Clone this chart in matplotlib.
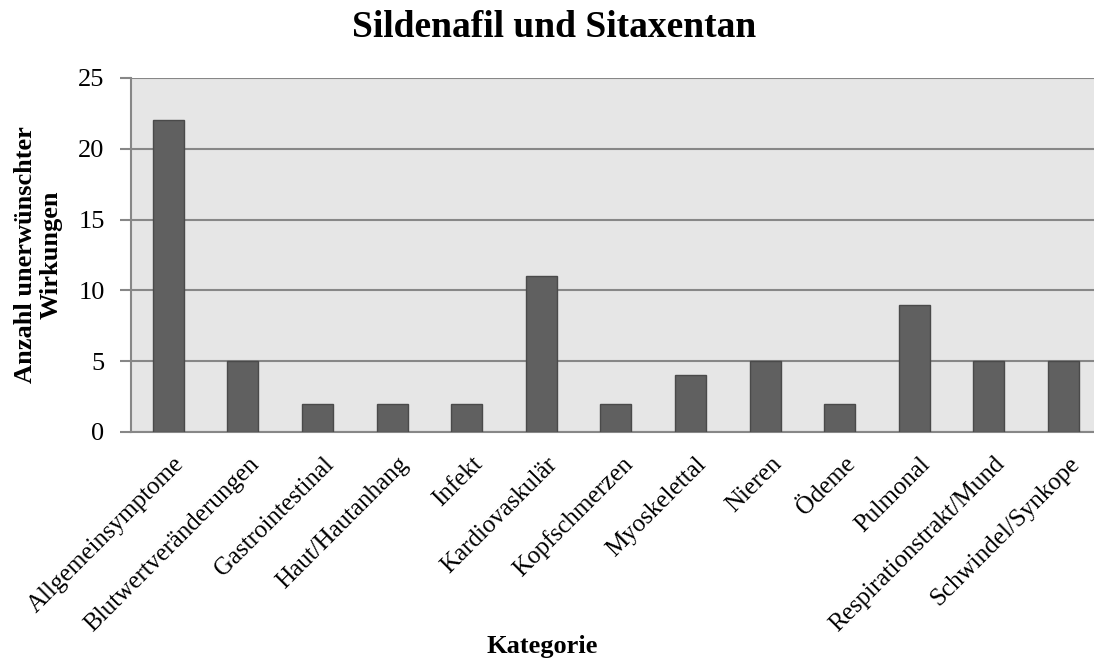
import matplotlib

matplotlib.use("Agg")

import matplotlib.pyplot as plt
import matplotlib.transforms as mtransforms
import numpy as np

categories = ["Allgemeinsymptome", "Blutwertveränderungen", "Gastrointestinal",
              "Haut/Hautanhang", "Infekt", "Kardiovaskulär", "Kopfschmerzen",
              "Myoskelettal", "Nieren", "Ödeme", "Pulmonal",
              "Respirationstrakt/Mund", "Schwindel/Synkope"]
counts = [22, 5, 2, 2, 2, 11, 2, 4, 5, 2, 9, 5, 5]

plt.rcParams["font.family"] = ["Liberation Serif", "DejaVu Serif"]

W, H = 1094, 661
left, right, top, bottom = 131, 1094, 78, 432
step = 74.6  # pixels per category

fig = plt.figure(figsize=(W / 100, H / 100), dpi=100)
ax = fig.add_axes([left / W, 1 - bottom / H, (right - left) / W, (bottom - top) / H])
ax.set_facecolor("#e6e6e6")

x = np.arange(len(categories))
ax.bar(x, counts, width=0.415, color="#606060", edgecolor="#4a4a4a", lw=1, zorder=3)

ax.set_xlim(-0.5, -0.5 + (right - left) / step)
ax.set_ylim(0, 25)
ax.set_yticks(range(0, 26, 5))
ax.yaxis.grid(True, color="#878787", lw=1.5, zorder=0)
ax.set_axisbelow(True)
for s in ("top", "right"):
    ax.spines[s].set_visible(False)
for s in ("left", "bottom"):
    ax.spines[s].set_color("#878787")
    ax.spines[s].set_linewidth(1.5)
ax.tick_params(axis="y", length=8, width=1.5, color="#878787", labelsize=19, pad=11)
ax.tick_params(axis="x", length=0, labelsize=18, pad=15)
ax.set_xticks(x)
ax.set_xticklabels(categories, rotation=45, ha="right", rotation_mode="anchor")
# labels sit a little right of the bar centre in the original
shift = mtransforms.ScaledTranslation(5 / 100, 0, fig.dpi_scale_trans)
for lbl in ax.get_xticklabels():
    lbl.set_transform(lbl.get_transform() + shift)

fig.text(542 / W, 1 - 653 / H, "Kategorie", fontsize=19, fontweight="bold",
         ha="center", va="baseline")
fig.text(38 / W, 1 - 255 / H, "Anzahl unerwünschter\nWirkungen", fontsize=19,
         fontweight="bold", rotation=90, ha="center", va="center", linespacing=1.14)
fig.text(554 / W, 1 - 37 / H, "Sildenafil und Sitaxentan", fontsize=27,
         fontweight="bold", ha="center", va="baseline")

fig.savefig("out.png", dpi=100)
